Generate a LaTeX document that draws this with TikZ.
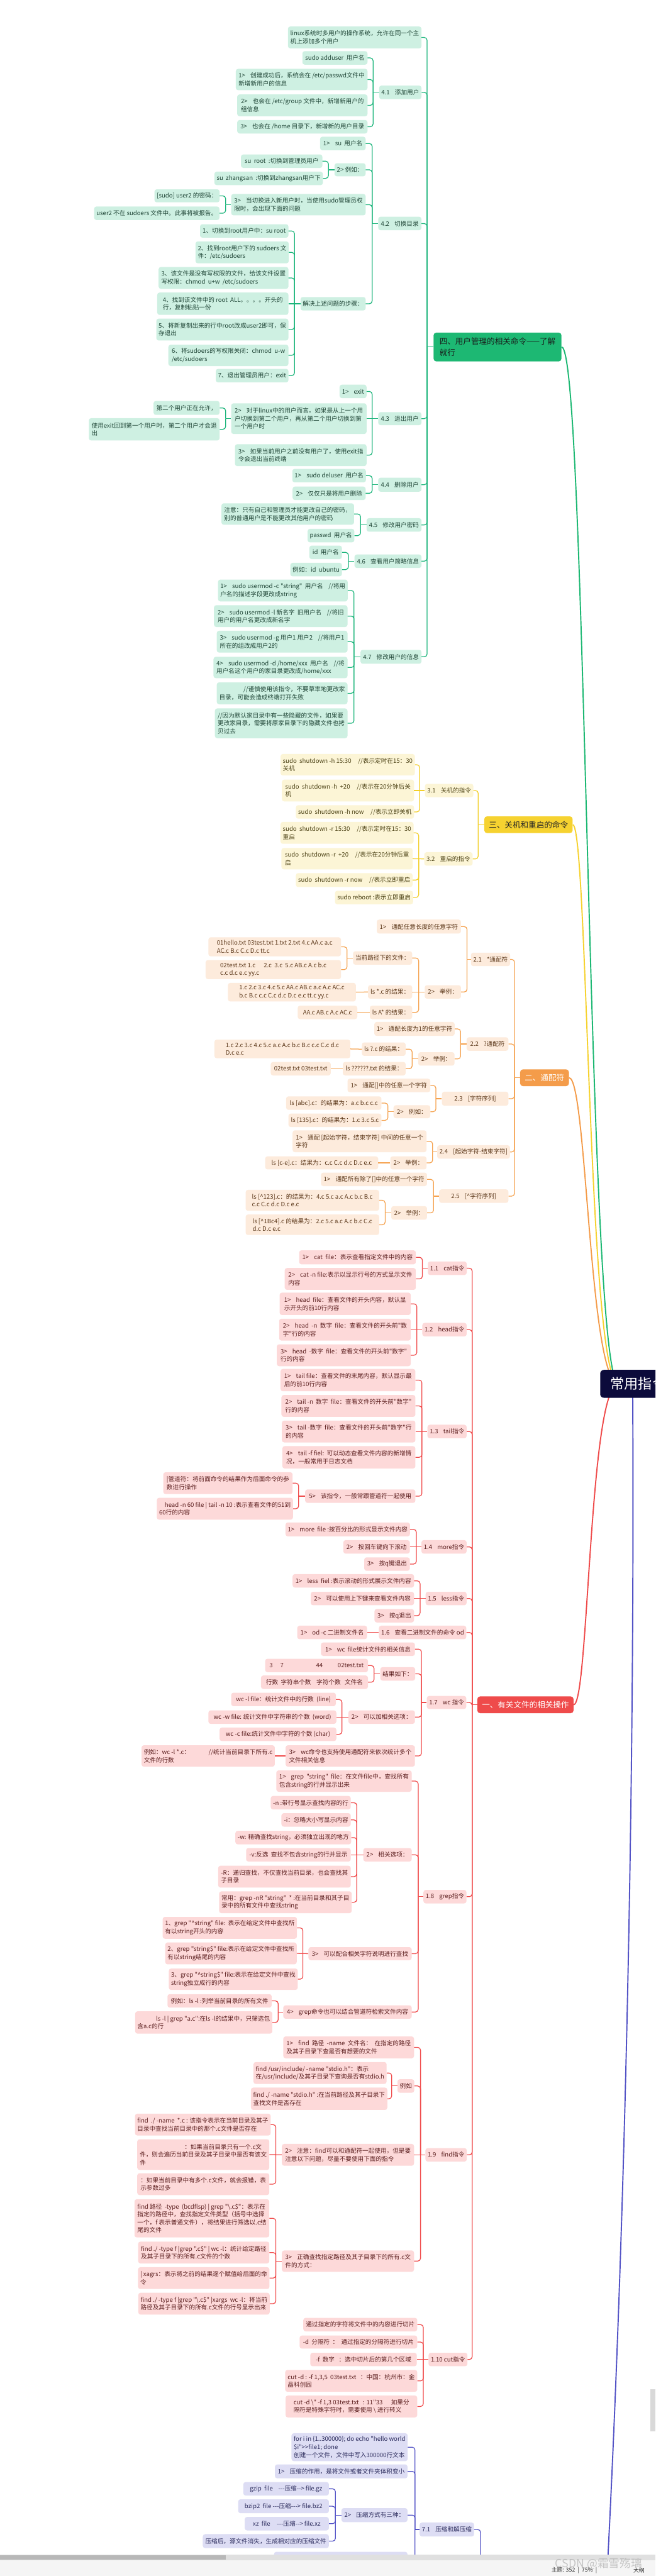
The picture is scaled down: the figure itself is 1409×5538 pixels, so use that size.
\documentclass[tikz,border=0pt]{standalone}
\usepackage{fontspec}
\newfontfamily\cjk{Noto Sans CJK SC}
\definecolor{gfill}{HTML}{CEF0E2}
\definecolor{gline}{HTML}{1CB57B}
\definecolor{gtext}{HTML}{1F4536}
\definecolor{gmain}{HTML}{1DB873}
\definecolor{yfill}{HTML}{FCF5D6}
\definecolor{yline}{HTML}{F3CF2A}
\definecolor{ytext}{HTML}{4B4114}
\definecolor{ymain}{HTML}{F6D230}
\definecolor{ofill}{HTML}{FDEBDC}
\definecolor{oline}{HTML}{F5A24F}
\definecolor{otext}{HTML}{5A3618}
\definecolor{omain}{HTML}{F49C4A}
\definecolor{rfill}{HTML}{FDD9D9}
\definecolor{rline}{HTML}{F04B4B}
\definecolor{rtext}{HTML}{5C1F1F}
\definecolor{rmain}{HTML}{EF4B4B}
\definecolor{bfill}{HTML}{DDDDF4}
\definecolor{bline}{HTML}{5353C6}
\definecolor{btext}{HTML}{2B2B5C}
\definecolor{rootc}{HTML}{0C0B3B}
\tikzset{
 base/.style={rounded corners=5pt, inner xsep=5pt, inner ysep=2pt, align=left, font=\cjk\fontsize{13}{17}\selectfont},
 gbx/.style={base, fill=gfill, text=gtext},
 ybx/.style={base, fill=yfill, text=ytext},
 obx/.style={base, fill=ofill, text=otext},
 rbx/.style={base, fill=rfill, text=rtext},
 ubx/.style={base, fill=bfill, text=btext},
 lone/.style={rounded corners=6pt, inner xsep=10pt, inner ysep=4pt, align=left, font=\cjk\fontsize{17}{24}\selectfont},
 mainln/.style={line width=2.6pt},
}
\newcommand\gp{\hspace{11pt}}
\newcommand\bx[7]{\pgfmathsetmacro\bxw{#5-#3}\pgfmathsetmacro\bxh{#6-#4}\pgfmathsetmacro\bxx{(#3+#5)/2}\pgfmathsetmacro\bxy{(#4+#6)/2}\node[#1,minimum width=\bxw pt,minimum height=\bxh pt] (#2) at (\bxx,\bxy) {#7};}
\newcommand\br[3]{\coordinate (tk) at (#2,0);\foreach \ch in {#3}{\draw[rounded corners=6pt] (\ch.east) -- (\ch.east -| tk) -- (#1.west -| tk);}\draw (#1.west -| tk) -- (#1.west);}
\newcommand\st[2]{\draw (#1.east) -- (#2.west);}
\begin{document}
\begin{tikzpicture}[x=1pt,y=-1pt]
\useasboundingbox (0,0) rectangle (1409,5538);
\clip (0,0) rectangle (1409,5538);
\fill[white] (0,0) rectangle (1409,5538);

% ================= GREEN =================
\bx{lone,fill=gmain,text=black!90}{g4}{932}{715}{1207}{777}{四、用户管理的相关命令——了解\\就行}
\bx{gbx}{g0}{619}{57}{906}{104}{linux系统时多用户的操作系统，允许在同一个主\\机上添加多个用户}
\bx{gbx}{g41}{815}{184}{906}{213}{4.1\gp 添加用户}
\bx{gbx}{a1}{650}{110}{790}{139}{sudo adduser~~用户名}
\bx{gbx}{a2}{507}{148}{790}{194}{1>\gp 创建成功后，系统会在 /etc/passwd文件中\\新增新用户的信息}
\bx{gbx}{a3}{510}{203}{790}{250}{2>\gp 也会在 /etc/group 文件中，新增新用户的\\组信息}
\bx{gbx}{a4}{510}{258}{790}{287}{3>\gp 也会在 /home 目录下，新增新的用户目录}
\bx{gbx}{g42}{813}{466}{906}{495}{4.2\gp 切换目录}
\bx{gbx}{b1}{688}{294}{786}{323}{1>\gp su~~用户名}
\bx{gbx}{b2}{719}{351}{786}{379}{2> 例如：}
\bx{gbx}{b2a}{518}{332}{693}{361}{su~~root~~:切换到管理员用户}
\bx{gbx}{b2b}{462}{369}{693}{398}{su~~zhangsan~~:切换到zhangsan用户下}
\bx{gbx}{b3}{497}{417}{786}{463}{3>\gp 当切换进入新用户时，当使用sudo管理员权\\限时，会出现下面的问题}
\bx{gbx}{b3a}{333}{407}{471}{435}{[sudo] user2 的密码：}
\bx{gbx}{b3b}{203}{444}{471}{473}{user2 不在 sudoers 文件中。此事将被报告。}
\bx{gbx}{b4}{646}{638.5}{786}{667.5}{解决上述问题的步骤：}
\bx{gbx}{s1}{430}{482}{620}{511}{1、切换到root用户中：su root}
\bx{gbx}{s2}{421}{519}{620}{566}{2、找到root用户下的 sudoers 文\\件：/etc/sudoers}
\bx{gbx}{s3}{341}{574}{620}{621}{3、该文件是没有写权限的文件，给该文件设置\\写权限：chmod~~u+w~~/etc/sudoers}
\bx{gbx}{s4}{338}{629}{620}{677}{4、找到该文件中的 root~~ALL。。。。开头的\\行，复制粘贴一份}
\bx{gbx}{s5}{336}{685}{620}{732}{5、将新复制出来的行中root改成user2即可，保\\存退出}
\bx{gbx}{s6}{362}{741}{620}{787}{6、将sudoers的写权限关闭：chmod~~u-w\\/etc/sudoers}
\bx{gbx}{s7}{464}{793}{620}{822}{7、退出管理员用户：exit}
\bx{gbx}{g43}{813}{886}{906}{914}{4.3\gp 退出用户}
\bx{gbx}{c1}{730}{827}{788}{856}{1>\gp exit}
\bx{gbx}{c2}{497}{867}{788}{933}{2>\gp 对于linux中的用户而言，如果是从上一个用\\户切换到第二个用户，再从第二个用户切换到第\\一个用户时}
\bx{gbx}{c2a}{330}{862}{472}{892}{第二个用户正在允许，}
\bx{gbx}{c2b}{191}{899}{472}{947}{使用exit回到第一个用户时，第二个用户才会退\\出}
\bx{gbx}{c3}{505}{955}{788}{1002}{3>\gp 如果当前用户之前没有用户了，使用exit指\\令会退出当前终端}
\bx{gbx}{g44}{813}{1027}{906}{1057}{4.4\gp 删除用户}
\bx{gbx}{d1}{629}{1008}{786}{1037}{1>\gp sudo deluser~~用户名}
\bx{gbx}{d2}{629}{1046}{786}{1075}{2>\gp 仅仅只是将用户删除}
\bx{gbx}{g45}{788}{1114}{906}{1143}{4.5\gp 修改用户密码}
\bx{gbx}{e1}{476}{1082}{761}{1128}{注意：只有自己和管理员才能更改自己的密码，\\别的普通用户是不能更改其他用户的密码}
\bx{gbx}{e2}{662}{1137}{761}{1166}{passwd~~用户名}
\bx{gbx}{g46}{762}{1192}{906}{1221}{4.6\gp 查看用户简略信息}
\bx{gbx}{f1}{665}{1173}{735}{1202}{id~~用户名}
\bx{gbx}{f2}{624}{1210}{735}{1239}{例如：id~~ubuntu}
\bx{gbx}{g47}{775}{1397}{906}{1427}{4.7\gp 修改用户的信息}
\bx{gbx}{h1}{469}{1246}{747}{1293}{1>\gp sudo usermod -c "string"~~用户名~~~~//将用\\户名的描述字段更改成string}
\bx{gbx}{h2}{460}{1301}{747}{1348}{2>\gp sudo usermod -l 新名字~~旧用户名~~~~//将旧\\用户的用户名更改成新名字}
\bx{gbx}{h3}{466}{1356}{747}{1403}{3>\gp sudo usermod -g 用户1 用户2~~~~//将用户1\\所在的组改成用户2的}
\bx{gbx}{h4}{459}{1412}{747}{1458}{4>\gp sudo usermod -d /home/xxx~~用户名~~~~//将\\用户名这个用户的家目录更改成/home/xxx}
\bx{gbx}{h5}{466}{1467}{747}{1514}{\hspace*{52pt}//谨慎使用该指令，不要草率地更改家\\目录，可能会造成终端打开失败}
\bx{gbx}{h6}{462}{1523}{747}{1587}{//因为默认家目录中有一些隐藏的文件，如果要\\更改家目录，需要将原家目录下的隐藏文件也拷\\贝过去}
\begin{scope}[color=gline, line width=1.7pt]
\br{g4}{918}{g0,g41,g42,g43,g44,g45,g46,g47}
\br{g41}{802}{a1,a2,a3,a4}
\br{g42}{800}{b1,b2,b3,b4}
\br{b2}{706}{b2a,b2b}
\br{b3}{485}{b3a,b3b}
\br{b4}{633}{s1,s2,s3,s5,s6,s7}
\st{s4}{b4}
\br{g43}{800}{c1,c3}
\st{c2}{g43}
\br{c2}{485}{c2a,c2b}
\br{g44}{800}{d1,d2}
\br{g45}{775}{e1,e2}
\br{g46}{749}{f1,f2}
\br{g47}{761}{h1,h2,h3,h4,h5,h6}
\end{scope}

% ================= YELLOW =================
\bx{lone,fill=ymain,text=black!85}{y3}{1041}{1755}{1231}{1791}{三、关机和重启的命令}
\bx{ybx}{y31}{916}{1685}{1015}{1714}{3.1\gp 关机的指令}
\bx{ybx}{y32}{913}{1832}{1015}{1861}{3.2\gp 重启的指令}
\bx{ybx}{ya}{605}{1621}{890}{1667}{sudo~~shutdown -h 15:30~~~~~//表示定时在15：30\\关机}
\bx{ybx}{yb}{606}{1676}{890}{1723}{sudo~~shutdown -h~~+20~~~~~//表示在20分钟后关\\机}
\bx{ybx}{yc}{636}{1731}{890}{1760}{sudo~~shutdown -h now~~~~~//表示立即关机}
\bx{ybx}{yd}{605}{1767}{887}{1814}{sudo~~shutdown -r 15:30~~~~~//表示定时在15：30\\重启}
\bx{ybx}{ye}{605}{1823}{887}{1869}{sudo~~shutdown -r~~+20~~~~~//表示在20分钟后重\\启}
\bx{ybx}{yf}{636}{1877}{887}{1907}{sudo~~shutdown -r now~~~~~//表示立即重启}
\bx{ybx}{yg}{721}{1915}{887}{1944}{sudo reboot :表示立即重启}
\begin{scope}[color=yline, line width=1.7pt]
\br{y3}{1028}{y31,y32}
\br{y31}{902}{ya,yc}
\st{yb}{y31}
\br{y32}{900}{yd,yf,yg}
\st{ye}{y32}
\end{scope}

% ================= ORANGE =================
\bx{lone,fill=omain,text=white}{o2}{1119}{2299}{1222}{2335}{二、通配符}
\bx{obx}{o21}{1016}{2048}{1093}{2077}{2.1\gp *通配符}
\bx{obx}{o22}{1003}{2230}{1093}{2259}{2.2\gp ?通配符}
\bx{obx}{o23}{950}{2347}{1093}{2377}{2.3\gp [字符序列]}
\bx{obx}{o24}{943}{2462}{1093}{2491}{2.4\gp [起始字符-结束字符]}
\bx{obx}{o25}{944}{2557}{1093}{2586}{2.5\gp [\textasciicircum 字符序列]}
\bx{obx}{p1}{810}{1977}{991}{2007}{1>\gp 通配任意长度的任意字符}
\bx{obx}{p2}{913}{2118}{991}{2147}{2>\gp 举例：}
\bx{obx}{p2a}{759}{2045}{886}{2074}{当前路径下的文件：}
\bx{obx}{p2b}{791}{2118}{886}{2147}{ls *.c 的结果：}
\bx{obx}{p2c}{795}{2162}{886}{2191}{ls A* 的结果：}
\bx{obx}{q1}{448}{2015}{733}{2056}{01hello.txt 03test.txt 1.txt 2.txt 4.c AA.c a.c\\AC.c B.c C.c D.c tt.c}
\bx{obx}{q2}{442}{2064}{733}{2105}{02test.txt 1.c~~~~~~2.c~~3.c~~5.c AB.c A.c b.c\\c.c d.c e.c yy.c}
\bx{obx}{q3}{490}{2113}{765}{2153}{1.c 2.c 3.c 4.c 5.c AA.c AB.c a.c A.c AC.c\\b.c B.c c.c C.c d.c D.c e.c tt.c yy.c}
\bx{obx}{q4}{640}{2162}{768}{2191}{AA.c AB.c A.c AC.c}
\bx{obx}{r1}{805}{2197}{977}{2227}{1>\gp 通配长度为1的任意字符}
\bx{obx}{r2}{899}{2262}{977}{2291}{2>\gp 举例：}
\bx{obx}{r2a}{461}{2235}{753}{2275}{1.c 2.c 3.c 4.c 5.c a.c A.c b.c B.c c.c C.c d.c\\D.c e.c}
\bx{obx}{r2b}{778}{2241}{872}{2270}{ls ?.c 的结果：}
\bx{obx}{r2c}{582}{2283}{711}{2312}{02test.txt 03test.txt}
\bx{obx}{r2d}{737}{2283}{872}{2312}{ls ??????.txt 的结果：}
\bx{obx}{t1}{747}{2319}{925}{2348}{1>\gp 通配[]中的任意一个字符}
\bx{obx}{t2}{846}{2376}{925}{2404}{2>\gp 例如：}
\bx{obx}{t2a}{615}{2357}{820}{2386}{ls [abc].c：的结果为：a.c b.c c.c}
\bx{obx}{t2b}{620}{2394}{820}{2423}{ls [135].c：的结果为：1.c 3.c 5.c}
\bx{obx}{u1}{629}{2430}{917}{2477}{1>\gp 通配 [起始字符，结束字符] 中间的任意一个\\字符}
\bx{obx}{u2}{839}{2486}{917}{2514}{2>\gp 举例：}
\bx{obx}{u2a}{570}{2486}{813}{2514}{ls [c-e].c：结果为：c.c C.c d.c D.c e.c}
\bx{obx}{v1}{690}{2521}{918}{2550}{1>\gp 通配所有除了[]中的任意一个字符}
\bx{obx}{v2}{841}{2593}{918}{2622}{2>\gp 举例：}
\bx{obx}{v2a}{528}{2558}{815}{2603}{ls [\textasciicircum 123].c：的结果为：4.c 5.c a.c A.c b.c B.c\\c.c C.c d.c D.c e.c}
\bx{obx}{v2b}{528}{2611}{815}{2655}{ls [\textasciicircum 1Bc4].c 的结果为：2.c 5.c a.c A.c b.c C.c\\d.c D.c e.c}
\begin{scope}[color=oline, line width=1.7pt]
\br{o2}{1106}{o21,o22,o23,o24,o25}
\br{o21}{1004}{p1,p2}
\br{p2}{900}{p2a,p2c}
\st{p2b}{p2}
\br{p2a}{746}{q1,q2}
\st{q3}{p2b}
\st{q4}{p2c}
\br{o22}{990}{r1,r2}
\br{r2}{886}{r2b,r2d}
\st{r2a}{r2b}
\st{r2c}{r2d}
\br{o23}{937}{t1,t2}
\br{t2}{834}{t2a,t2b}
\br{o24}{930}{u1,u2}
\st{u2a}{u2}
\br{o25}{932}{v1,v2}
\br{v2}{828}{v2a,v2b}
\end{scope}

% ================= RED =================
\bx{lone,fill=rmain,text=white}{r1n}{1028}{3647}{1231}{3683}{一、有关文件的相关操作}
\bx{rbx}{r11}{921}{2712}{1002}{2741}{1.1\gp cat指令}
\bx{rbx}{ca}{643}{2688}{894}{2718}{1>\gp cat~~file：表示查看指定文件中的内容}
\bx{rbx}{cb}{612}{2726}{894}{2773}{2>\gp cat -n file:表示以显示行号的方式显示文件\\内容}
\bx{rbx}{r12}{909}{2844}{1002}{2873}{1.2\gp head指令}
\bx{rbx}{hA}{601}{2779}{883}{2827}{1>\gp head~~file：查看文件的开头内容，默认显\\示开头的前10行内容}
\bx{rbx}{hB}{600}{2835}{883}{2882}{2>\gp head~~-n~~数字~~file：查看文件的开头前"数\\字"行的内容}
\bx{rbx}{hC}{595}{2890}{883}{2937}{3>\gp head~~-数字~~file：查看文件的开头前"数字"\\行的内容}
\bx{rbx}{r13}{920}{3063}{1002}{3092}{1.3\gp tail指令}
\bx{rbx}{tA}{603}{2943}{893}{2991}{1>\gp tail file：查看文件的末尾内容，默认显示最\\后的前10行内容}
\bx{rbx}{tB}{605}{2999}{893}{3046}{2>\gp tail -n~~数字~~file：查看文件的开头前"数字"\\行的内容}
\bx{rbx}{tC}{606}{3054}{893}{3101}{3>\gp tail -数字~~file：查看文件的开头前"数字"行\\的内容}
\bx{rbx}{tD}{607}{3109}{893}{3157}{4>\gp tail -f fiel:~~可以动态查看文件内容的新增情\\况，一般常用于日志文档}
\bx{rbx}{tE}{656}{3202}{893}{3231}{5>\gp 该指令，一般常跟管道符一起使用}
\bx{rbx}{tEa}{351}{3165}{629}{3212}{|管道符：将前面命令的结果作为后面命令的参\\数进行操作}
\bx{rbx}{tEb}{338}{3220}{629}{3267}{\hspace*{12pt}head -n 60 file | tail -n 10 :表示查看文件的51到\\60行的内容}
\bx{rbx}{r14}{907}{3311}{1002}{3340}{1.4\gp more指令}
\bx{rbx}{mA}{614}{3273}{881}{3303}{1>\gp more~~file :按百分比的形式显示文件内容}
\bx{rbx}{mB}{738}{3311}{881}{3340}{2>\gp 按回车键向下滚动}
\bx{rbx}{mC}{783}{3348}{881}{3377}{3>\gp 按q键退出}
\bx{rbx}{r15}{916}{3422}{1002}{3451}{1.5\gp less指令}
\bx{rbx}{lA}{629}{3384}{890}{3413}{1>\gp less~~fiel :表示滚动的形式展示文件内容}
\bx{rbx}{lB}{668}{3422}{890}{3451}{2>\gp 可以使用上下键来查看文件内容}
\bx{rbx}{lC}{805}{3459}{890}{3488}{3>\gp 按q退出}
\bx{rbx}{r16}{815}{3495}{1002}{3524}{1.6\gp 查看二进制文件的命令 od}
\bx{rbx}{oA}{639}{3495}{789}{3524}{1>\gp od -c 二进制文件名}
\bx{rbx}{r17}{918}{3646}{1002}{3674}{1.7\gp wc 指令}
\bx{rbx}{w1}{690}{3531}{892}{3560}{1>\gp wc~~file统计文件的相关信息}
\bx{rbx}{w2}{818}{3584}{892}{3613}{结果如下：}
\bx{rbx}{w3}{749}{3677}{892}{3706}{2>\gp 可以加相关选项：}
\bx{rbx}{w4}{614}{3752}{892}{3798}{3>\gp wc命令也支持使用通配符来依次统计多个\\文件相关信息}
\bx{rbx}{w2a}{570}{3566}{791}{3595}{3\hspace{16pt}7\hspace{70pt}44\hspace{32pt}02test.txt}
\bx{rbx}{w2b}{561}{3602}{791}{3631}{行数~~字符串个数~~~~字符个数~~~文件名}
\bx{rbx}{w3a}{497}{3639}{722}{3668}{wc -l file：统计文件中的行数~~(line)}
\bx{rbx}{w3b}{448}{3677}{723}{3706}{wc -w file: 统计文件中字符串的个数~~(word)}
\bx{rbx}{w3c}{472}{3714}{723}{3743}{wc -c file:统计文件中字符的个数 (char)}
\bx{rbx}{w4a}{308}{3752}{587}{3798}{例如：wc -l *.c：\hspace{40pt}//统计当前目录下所有.c\\文件的行数}
\bx{rbx}{r18}{911}{4063}{1002}{4092}{1.8\gp grep指令}
\bx{rbx}{gA}{594}{3806}{885}{3852}{1>\gp grep~~"string"~~file：在文件file中，查找所有\\包含string的行并显示出来}
\bx{rbx}{gB}{781}{3973}{885}{4002}{2>\gp 相关选项：}
\bx{rbx}{gC}{663}{4186}{885}{4214}{3>\gp 可以配合相关字符说明进行查找}
\bx{rbx}{gD}{609}{4311}{885}{4340}{4>\gp grep命令也可以结合管道符检索文件内容}
\bx{rbx}{gBa}{582}{3861}{754}{3890}{-n :带行号显示查找内容的行}
\bx{rbx}{gBb}{605}{3898}{754}{3927}{-i：忽略大小写显示内容}
\bx{rbx}{gBc}{507}{3936}{754}{3965}{-w: 精确查找string，必须独立出现的地方}
\bx{rbx}{gBd}{529}{3973}{754}{4002}{-v:反选~~查找不包含string的行并显示}
\bx{rbx}{gBe}{469}{4011}{754}{4058}{-R：递归查找，不仅查找当前目录，也会查找其\\子目录}
\bx{rbx}{gBf}{473}{4066}{754}{4113}{常用：grep -nR "string"~~* :在当前目录和其子目\\录中的所有文件中查找string}
\bx{rbx}{gCa}{352}{4121}{636}{4168}{1、grep "\textasciicircum string" file:~~表示在给定文件中查找所\\有以string开头的内容}
\bx{rbx}{gCb}{357}{4176}{636}{4223}{2、grep "string\$" file:表示在给定文件中查找所\\有以string结尾的内容}
\bx{rbx}{gCc}{367}{4232}{636}{4278}{3、grep "\textasciicircum string\$" file:表示在给定文件中查找\\string独立成行的内容}
\bx{rbx}{gDa}{360}{4287}{584}{4316}{例如：ls -l :列举当前目录的所有文件}
\bx{rbx}{gDb}{292}{4324}{584}{4372}{\hspace*{40pt}ls -l | grep "a.c":在ls -l的结果中，只筛选包\\含a.c的行}
\bx{rbx}{r19}{916}{4618}{1002}{4647}{1.9\gp find指令}
\bx{rbx}{n1}{609}{4378}{890}{4425}{1>\gp find~~路径~~-name~~文件名：~~在指定的路径\\及其子目录下查是否有想要的文件}
\bx{rbx}{n2}{855}{4470}{890}{4499}{例如}
\bx{rbx}{n3}{606}{4609}{890}{4656}{2>\gp 注意：find可以和通配符一起使用，但是要\\注意以下问题，尽量不要使用下面的指令}
\bx{rbx}{n4}{606}{4838}{890}{4884}{3>\gp 正确查找指定路径及其子目录下的所有.c文\\件的方式：}
\bx{rbx}{n2a}{548}{4433}{828}{4480}{find /usr/include/ -name "stdio.h"：表示\\在/usr/include/及其子目录下查询是否有stdio.h}
\bx{rbx}{n2b}{544}{4488}{828}{4536}{find ./ -name "stdio.h" :在当前路径及其子目录下\\查找文件是否存在}
\bx{rbx}{n3a}{293}{4544}{579}{4591}{find~~./ -name~~*.c : 该指令表示在当前目录及其子\\目录中查找当前目录中的那个.c文件是否存在}
\bx{rbx}{n3b}{295}{4599}{579}{4665}{\hspace*{96pt}：如果当前目录只有一个.c文\\件，则会遍历当前目录及其子目录中是否有该文\\件}
\bx{rbx}{n3c}{295}{4672}{579}{4719}{：如果当前目录中有多个.c文件，就会报错，表\\示参数过多}
\bx{rbx}{n4a}{289}{4728}{579}{4810}{find 路径~~-type~~(bcdflsp) | grep "\textbackslash.c\$"：表示在\\指定的路径中，查找指定文件类型（括号中选择\\一个，f 表示普通文件），将结果进行筛选以.c结\\尾的文件}
\bx{rbx}{n4b}{297}{4819}{579}{4866}{find ./ -type f |grep ".c\$" | wc -l：统计给定路径\\及其子目录下的所有.c文件的个数}
\bx{rbx}{n4c}{297}{4874}{579}{4921}{| xagrs：表示将之前的结果逐个赋值给后面的命\\令}
\bx{rbx}{n4d}{298}{4929}{579}{4976}{find ./ -type f |grep "\textbackslash.c\$" |xargs~~wc -l：将当前\\路径及其子目录下的所有.c文件的行号显示出来}
\bx{rbx}{r110}{924}{5058}{1002}{5087}{1.10 cut指令}
\bx{rbx}{xA}{652}{4983}{897}{5012}{通过指定的字符将文件中的内容进行切片}
\bx{rbx}{xB}{644}{5021}{897}{5049}{-d~~分隔符~~：~~通过指定的分隔符进行切片}
\bx{rbx}{xC}{667}{5058}{896}{5087}{-f~~数字~~~：选中切片后的第几个区域}
\bx{rbx}{xD}{613}{5095}{897}{5142}{cut -d : -f 1,3,5~~03test.txt~~~：中国：杭州市：金\\晶科创园}
\bx{rbx}{xE}{614}{5150}{897}{5197}{cut -d \textbackslash" -f 1,3 03test.txt~~~: 11"33\hspace{18pt}如果分\\隔符是特殊字符时，需要使用 \textbackslash\ 进行转义}
\begin{scope}[color=rline, line width=1.7pt]
\br{r1n}{1015}{r11,r12,r13,r14,r15,r16,r17,r18,r19,r110}
\br{r11}{908}{ca,cb}
\br{r12}{896}{hA,hC}
\st{hB}{r12}
\br{r13}{907}{tA,tB,tD,tE}
\st{tC}{r13}
\br{tE}{642}{tEa,tEb}
\br{r14}{895}{mA,mC}
\st{mB}{r14}
\br{r15}{903}{lA,lC}
\st{lB}{r15}
\st{oA}{r16}
\br{r17}{906}{w1,w2,w3,w4}
\br{w2}{804}{w2a,w2b}
\br{w3}{735}{w3a,w3c}
\st{w3b}{w3}
\st{w4a}{w4}
\br{r18}{899}{gA,gB,gC,gD}
\br{gB}{767}{gBa,gBb,gBc,gBe,gBf}
\st{gBd}{gB}
\br{gC}{651}{gCa,gCc}
\st{gCb}{gC}
\br{gD}{598}{gDa,gDb}
\br{r19}{904}{n1,n2,n4}
\st{n3}{r19}
\br{n2}{842}{n2a,n2b}
\br{n3}{593}{n3a,n3c}
\st{n3b}{n3}
\br{n4}{593}{n4a,n4b,n4c,n4d}
\br{r110}{910}{xA,xB,xD,xE}
\st{xC}{r110}
\end{scope}

% ================= BLUE =================
\bx{ubx}{b71}{903}{5423}{1018}{5453}{7.1\gp 压缩和解压缩}
\bx{ubx}{k1}{627}{5231}{876}{5291}{for i in \{1..300000\}; do echo "hello world\\\$i">{}>file1; done\\创建一个文件，文件中写入300000行文本}
\bx{ubx}{k2}{591}{5298}{876}{5328}{1>\gp 压缩的作用，是将文件或者文件夹体积变小}
\bx{ubx}{k3}{734}{5392}{876}{5422}{2>\gp 压缩方式有三种：}
\bx{ubx}{k4}{589}{5486}{876}{5515}{}
\bx{ubx}{k3a}{523}{5336}{707}{5365}{gzip~~file~~~~---压缩--> file.gz}
\bx{ubx}{k3b}{512}{5373}{707}{5403}{bzip2~~file ---压缩---> file.bz2}
\bx{ubx}{k3c}{526}{5411}{707}{5440}{xz~~file~~~~~---压缩--> file.xz}
\bx{ubx}{k3d}{436}{5448}{707}{5478}{压缩后，源文件消失，生成相对应的压缩文件}
\begin{scope}[color=bline, line width=1.7pt]
\br{b71}{892}{k1,k2,k3,k4}
\br{k3}{721}{k3a,k3b,k3c,k3d}
\draw[rounded corners=6pt] (b71.east) -- (1033,5438) -- (1033,5560);
\end{scope}

% ================= MAIN BRANCHES + ROOT =================
\draw[mainln, color=gmain] (1330,2975) .. controls (1262,2975) and (1262,746) .. (g4.east);
\draw[mainln, color=ymain] (1330,2975) .. controls (1264,2975) and (1264,1773) .. (y3.east);
\draw[mainln, color=omain] (1330,2975) .. controls (1266,2975) and (1262,2317) .. (o2.east);
\draw[mainln, color=rmain] (1330,2975) .. controls (1266,2975) and (1266,3665) .. (r1n.east);
\draw[mainln, color=bline] (1360,2975) .. controls (1365,3800) and (1345,4900) .. (1290,5800);
\node[fill=rootc, text=white, font=\cjk\fontsize{30}{36}\selectfont, rounded corners=8pt, anchor=west, minimum height=60pt, inner xsep=22pt] (rt) at (1290,2975) {常用指令};

% ================= WINDOW CHROME =================
\fill[black!12] (0,5492) rectangle (1409,5504);
\fill[black!28] (0,5493) rectangle (485,5503);
\fill[black!4] (0,5504) rectangle (1409,5538);
\fill[black!15] (1398,5137) rectangle (1409,5227);
\node[text=black!35, opacity=0.6, font=\cjk\fontsize{24}{26}\selectfont, anchor=west] (wm) at (1190,5512) {CSDN @霜雪殇璃};
\node[text=black!80, font=\cjk\fontsize{12}{14}\selectfont, anchor=west] (sb) at (1182,5526) {主题: 352~~|~~75\%~~|};
\node[text=black!80, font=\cjk\fontsize{12}{14}\selectfont, anchor=west] (sb2) at (1358,5526) {大纲};
\end{tikzpicture}
\end{document}
